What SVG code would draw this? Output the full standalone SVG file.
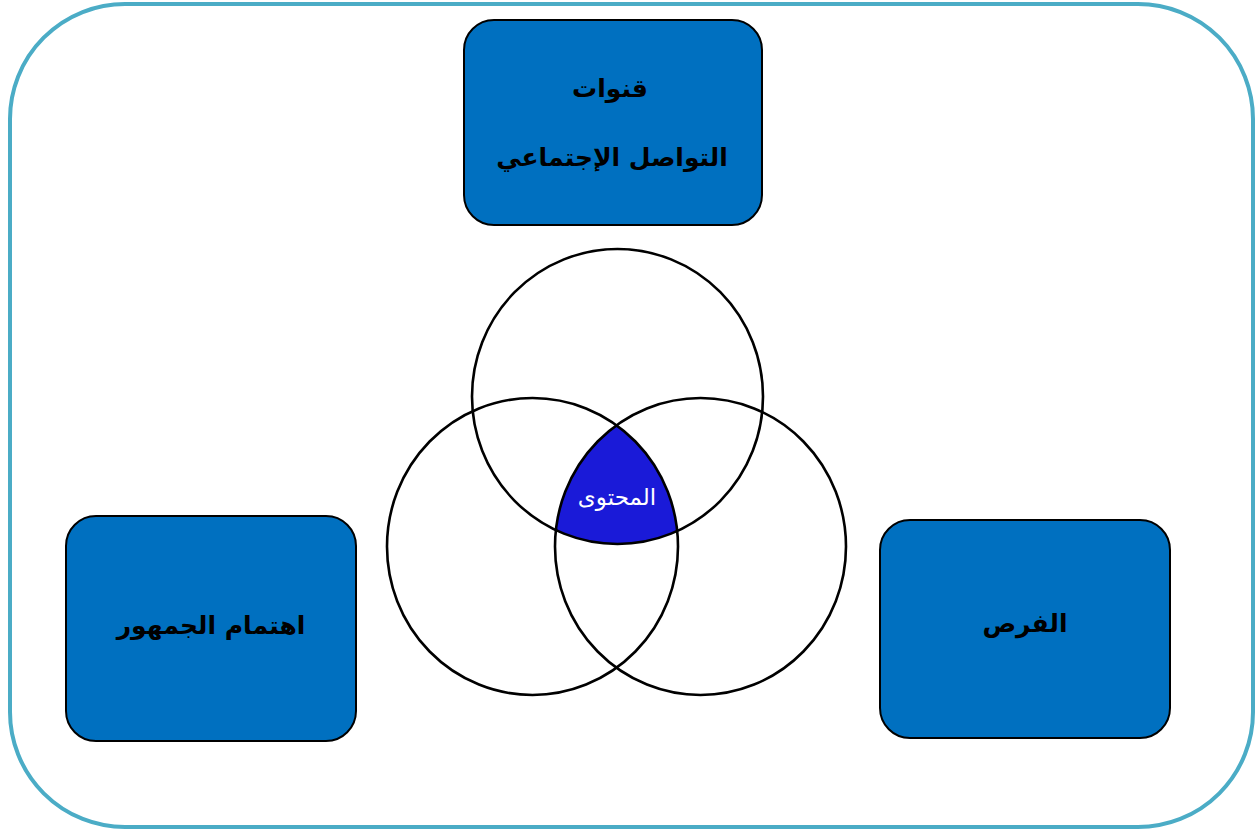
<svg xmlns="http://www.w3.org/2000/svg" width="1257" height="831" viewBox="0 0 1257 831">
<style>
.box{fill:#0070c0;stroke:#000;stroke-width:2}
.lbl{font-family:"DejaVu Sans","Noto Sans",sans-serif;font-weight:bold;font-size:25px;fill:#000;text-anchor:middle}
.circ{fill:none;stroke:#000;stroke-width:2.6}
</style>
<defs>
<clipPath id="clipL"><ellipse cx="532.5" cy="546.5" rx="145.5" ry="148.5"/></clipPath>
<clipPath id="clipR"><ellipse cx="700.5" cy="546.5" rx="145.5" ry="148.5"/></clipPath>
</defs>
<rect x="10" y="4" width="1243" height="823" rx="115" ry="115" fill="#fff" stroke="#4bacc6" stroke-width="4"/>
<g id="node-channels">
<rect class="box" x="464" y="20" width="298" height="205" rx="30" ry="30"/>
<text class="lbl" x="610" y="97" direction="rtl">قنوات</text>
<text class="lbl" x="612" y="166" direction="rtl">التواصل الإجتماعي</text>
</g>
<g id="node-audience">
<rect class="box" x="66" y="516" width="290" height="225" rx="30" ry="30"/>
<text class="lbl" x="211" y="634" direction="rtl">اهتمام الجمهور</text>
</g>
<g id="node-opportunities">
<rect class="box" x="880" y="520" width="290" height="218" rx="30" ry="30"/>
<text class="lbl" x="1025" y="632" direction="rtl">الفرص</text>
</g>
<g id="venn">
<g id="content" clip-path="url(#clipR)">
<g clip-path="url(#clipL)">
<ellipse cx="617.5" cy="396.5" rx="145.5" ry="147.5" fill="#1a1ad8"/>
</g>
</g>
<ellipse class="circ" cx="617.5" cy="396.5" rx="145.5" ry="147.5"/>
<ellipse class="circ" cx="532.5" cy="546.5" rx="145.5" ry="148.5"/>
<ellipse class="circ" cx="700.5" cy="546.5" rx="145.5" ry="148.5"/>
<text x="617" y="505" font-family="DejaVu Sans, sans-serif" font-size="23" fill="#fff" text-anchor="middle" direction="rtl">المحتوى</text>
</g>
</svg>
